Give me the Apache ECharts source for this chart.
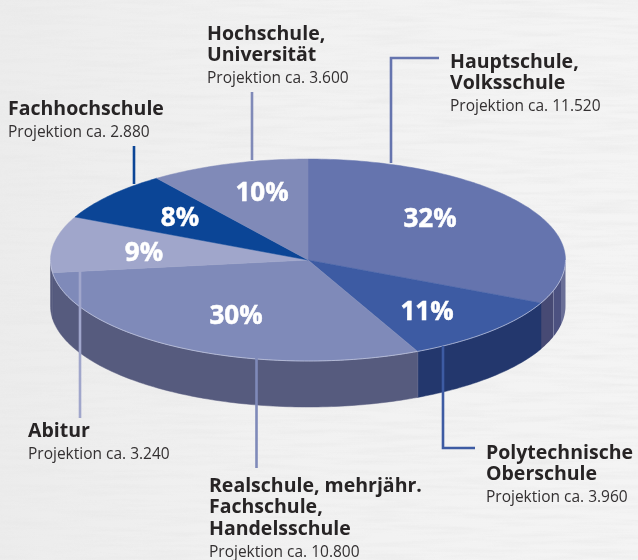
<!DOCTYPE html>
<html>
<head>
<meta charset="utf-8">
<title>Projektion Schulabschluss</title>
<style>
  html, body { margin: 0; padding: 0; background-color: #f0f0f0; }
  #bg { position: absolute; left: 0; top: 0; width: 638px; height: 560px; }
  #chart { position: absolute; left: 0; top: 0; width: 638px; height: 560px; }
</style>
<script src="https://cdn.jsdelivr.net/npm/echarts@6/dist/echarts.min.js"></script>
</head>
<body>
<svg id="bg" xmlns="http://www.w3.org/2000/svg">
  <defs>
    <linearGradient id="paper" x1="0" y1="0" x2="1" y2="0">
      <stop offset="0" stop-color="#ececec"/>
      <stop offset="0.4" stop-color="#f1f1f1"/>
      <stop offset="1" stop-color="#f4f4f4"/>
    </linearGradient>
  </defs>
  <filter id="streaks" x="0" y="0" width="100%" height="100%">
    <feTurbulence type="fractalNoise" baseFrequency="0.014 0.2" numOctaves="3" seed="7"/>
    <feColorMatrix type="matrix" values="0 0 0 0 0.80  0 0 0 0 0.80  0 0 0 0 0.80  1.3 0 0 0 -0.5"/>
  </filter>
  <rect width="638" height="560" fill="url(#paper)"/>
  <rect width="638" height="560" filter="url(#streaks)" opacity="0.8"/>
</svg>
<div id="chart"></div>
<script>
// Werte aus der Grafik, im Uhrzeigersinn ab 12 Uhr
const categories = [
  ["Hauptschule,", "Volksschule"],
  ["Polytechnische", "Oberschule"],
  ["Realschule, mehrjähr.", "Fachschule,", "Handelsschule"],
  ["Abitur"],
  ["Fachhochschule"],
  ["Hochschule,", "Universität"],
];
const projections = ["11.520", "3.960", "10.800", "3.240", "2.880", "3.600"];
const values = [11520, 3960, 10800, 3240, 2880, 3600];
const percents = ["32%", "11%", "30%", "9%", "8%", "10%"];

const topColors = ["#6574ae", "#3d5ba3", "#7f8ab9", "#a0a6cb", "#0b4596", "#808ab8"];
const wallColors = ["#474a74", "#23376d", "#565b7e", "#565b7e", "#0b4596", "#808ab8"];

// Ellipse der Tortenoberseite
const CX = 308, CY = 260, RX = 257.5, RY = 101, DEPTH = 46;
const FONT = '"Open Sans", "Noto Sans", sans-serif';

// Lage der Beschriftungen je Segment
const pctPos = [[430, 220], [427, 313], [236, 317], [144, 254], [180, 219], [262, 194]];
const textPos = [[450, 62], [486, 453], [209, 486], [28, 431], [8, 109], [207, 34]];
const leaders = [
  [[391, 163], [391, 58], [439, 58]],
  [[443, 346], [443, 448], [475, 448]],
  [[256.5, 358], [256.5, 468]],
  [[80, 271], [80, 418]],
  [[134, 184], [134, 146]],
  [[252, 160], [252, 92]],
];

const total = values.reduce((a, b) => a + b, 0);
const starts = [];
values.reduce((sum, v, i) => { starts[i] = sum; return sum + v; }, 0);

const edge = (deg, dy) => {
  const rad = (deg * Math.PI) / 180;
  return [CX + RX * Math.sin(rad), CY - RY * Math.cos(rad) + (dy || 0)];
};

const arc = (from, to, dy) => {
  const pts = [];
  const steps = Math.max(2, Math.ceil(Math.abs(to - from)));
  for (let i = 0; i <= steps; i++) pts.push(edge(from + ((to - from) * i) / steps, dy));
  return pts;
};

const sliceRange = (params, api) => {
  const i = params.dataIndex;
  return [(starts[i] / total) * 360, ((starts[i] + api.value(0)) / total) * 360];
};

// die rechte Wand hat in der Vorlage schmale Streifen
const wallFill = (i) => {
  if (i !== 0) return wallColors[i];
  return {
    type: "linear",
    global: true,
    x: 541,
    y: 0,
    x2: 566,
    y2: 0,
    colorStops: [
      { offset: 0, color: "#474a74" },
      { offset: 0.48, color: "#474a74" },
      { offset: 0.5, color: "#7d81a3" },
      { offset: 0.53, color: "#4c5180" },
      { offset: 0.8, color: "#4c5180" },
      { offset: 0.82, color: "#6a6f97" },
      { offset: 1, color: "#6a6f97" },
    ],
  };
};

const renderWall = (params, api) => {
  const i = params.dataIndex;
  const [a, b] = sliceRange(params, api);
  const from = Math.max(a, 90), to = Math.min(b, 270);
  if (from >= to) return { type: "group", children: [] };
  const fill = wallFill(i);
  return {
    type: "group",
    children: [
      {
        type: "polygon",
        shape: { points: arc(from, to, 0).concat(arc(to, from, DEPTH)) },
        style: { fill, stroke: i === 0 ? "none" : fill, lineWidth: 0.5 },
      },
      {
        // feine helle Kante an der Wandgrenze
        type: "polyline",
        shape: { points: [edge(to, 0), edge(to, DEPTH)] },
        style: { fill: "none", stroke: i === 1 ? "#9094b4" : "none", lineWidth: 0.8 },
      },
    ],
  };
};

const renderTop = (params, api) => {
  const i = params.dataIndex;
  const [a, b] = sliceRange(params, api);
  const from = Math.max(a, 90), to = Math.min(b, 270);
  const children = [
    {
      type: "polygon",
      shape: { points: [[CX, CY]].concat(arc(a, b, 0)) },
      style: { fill: topColors[i], stroke: topColors[i], lineWidth: 0.5 },
    },
  ];
  if (from < to) {
    children.push({
      type: "polyline",
      shape: { points: arc(from, to, 0) },
      style: { fill: "none", stroke: "#c9cde2", lineWidth: 0.7 },
    });
  }
  return { type: "group", children };
};

const renderNotes = (params) => {
  const i = params.dataIndex;
  const [tx, ty] = textPos[i];
  const names = categories[i];
  const children = [
    {
      type: "polyline",
      shape: { points: leaders[i] },
      style: { fill: "none", stroke: topColors[i], lineWidth: 2.6 },
    },
    {
      type: "text",
      x: pctPos[i][0],
      y: pctPos[i][1],
      style: {
        text: percents[i],
        fill: "#ffffff",
        font: "bold 26px " + FONT,
        align: "center",
        verticalAlign: "middle",
        stroke: "#ffffff",
        lineWidth: 0.5,
      },
    },
  ];
  names.forEach((line, n) => {
    children.push({
      type: "text",
      x: tx,
      y: ty + n * 21.5,
      style: { text: line, fill: "#272425", font: "bold 19.5px " + FONT, verticalAlign: "middle" },
    });
  });
  children.push({
    type: "text",
    x: tx,
    y: ty + (names.length - 1) * 21.5 + 23.5,
    style: { text: "Projektion ca. " + projections[i], fill: "#333031", font: "15.5px " + FONT, verticalAlign: "middle" },
  });
  return { type: "group", children };
};

const chart = echarts.init(document.getElementById("chart"), null, { renderer: "canvas" });
const rows = values.map((v) => [v]);
chart.setOption({
  animation: false,
  backgroundColor: "transparent",
  series: [
    { type: "custom", coordinateSystem: "none", renderItem: renderWall, data: rows, z: 1, silent: true },
    { type: "custom", coordinateSystem: "none", renderItem: renderTop, data: rows, z: 2, silent: true },
    { type: "custom", coordinateSystem: "none", renderItem: renderNotes, data: rows, z: 3, silent: true },
  ],
});
</script>
</body>
</html>
